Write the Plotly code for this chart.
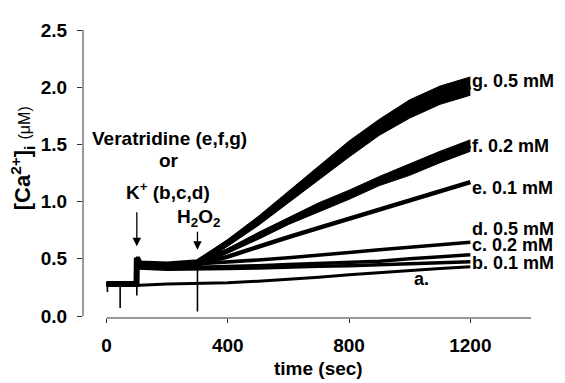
import plotly.graph_objects as go

# ---- data ----
t = [0, 99, 100, 110, 200, 300, 400, 500, 600, 700, 800, 900, 1000, 1100, 1200]
trace_a = [0.27, 0.27, 0.27, 0.27, 0.28, 0.285, 0.29, 0.305, 0.32, 0.34, 0.36, 0.38, 0.40, 0.415, 0.43]
trace_b = [0.28, 0.28, 0.46, 0.42, 0.41, 0.41, 0.415, 0.42, 0.43, 0.435, 0.44, 0.45, 0.46, 0.465, 0.475]
trace_c = [0.28, 0.28, 0.47, 0.43, 0.42, 0.425, 0.435, 0.44, 0.45, 0.46, 0.47, 0.48, 0.50, 0.515, 0.535]
trace_d = [0.28, 0.28, 0.49, 0.45, 0.44, 0.455, 0.47, 0.49, 0.51, 0.53, 0.555, 0.58, 0.60, 0.62, 0.645]
trace_e = [0.28, 0.28, 0.49, 0.44, 0.43, 0.45, 0.52, 0.61, 0.69, 0.77, 0.85, 0.93, 1.01, 1.09, 1.17]
trace_f = [0.28, 0.28, 0.50, 0.45, 0.44, 0.46, 0.57, 0.70, 0.83, 0.95, 1.06, 1.18, 1.28, 1.39, 1.49]
trace_g = [0.28, 0.28, 0.51, 0.46, 0.45, 0.47, 0.64, 0.83, 1.04, 1.25, 1.46, 1.65, 1.81, 1.93, 2.01]

# noise envelopes of the two fastest-rising traces (from t = 300 s)
t_rise = [300, 400, 500, 600, 700, 800, 900, 1000, 1100, 1200]
g_high = [0.49, 0.67, 0.87, 1.09, 1.31, 1.53, 1.72, 1.89, 2.01, 2.09]
g_low = [0.45, 0.61, 0.79, 0.99, 1.19, 1.39, 1.58, 1.73, 1.85, 1.93]
f_high = [0.48, 0.59, 0.73, 0.86, 0.99, 1.10, 1.22, 1.33, 1.44, 1.54]
f_low = [0.44, 0.55, 0.67, 0.80, 0.91, 1.02, 1.14, 1.23, 1.34, 1.44]

# addition artefacts (vertical spikes)
spike_t = [3, 45, 100, 300]
spike_lo = [0.21, 0.07, 0.18, 0.04]
spike_hi = [0.28, 0.28, 0.52, 0.46]

trace_labels = ["g. 0.5 mM", "f. 0.2 mM", "e. 0.1 mM", "d. 0.5 mM", "c. 0.2 mM", "b. 0.1 mM"]
label_y = [2.05, 1.485, 1.116, 0.76, 0.62, 0.463]

y_ticks = [0, 0.5, 1.0, 1.5, 2.0, 2.5]
x_ticks = [0, 400, 800, 1200]

FONT = "Liberation Sans, Arial, Helvetica, sans-serif"
OFF = 8  # page body margin of the html page

fig = go.Figure()

# envelopes
for hi, lo in [(g_high, g_low), (f_high, f_low)]:
    fig.add_trace(go.Scatter(x=t_rise, y=lo, mode="lines", line=dict(color="black", width=1),
                             showlegend=False, hoverinfo="skip"))
    fig.add_trace(go.Scatter(x=t_rise, y=hi, mode="lines", line=dict(color="black", width=1),
                             fill="tonexty", fillcolor="black", showlegend=False, hoverinfo="skip"))

widths = {"a": 3, "b": 3.5, "c": 3.5, "d": 3.5, "e": 4.5, "f": 5, "g": 6}
for name, ys in [("a", trace_a), ("b", trace_b), ("c", trace_c), ("d", trace_d),
                 ("e", trace_e), ("f", trace_f), ("g", trace_g)]:
    fig.add_trace(go.Scatter(x=t, y=ys, mode="lines",
                             line=dict(color="black", width=widths[name]),
                             showlegend=False, name=name))

sx, sy = [], []
for st, lo, hi in zip(spike_t, spike_lo, spike_hi):
    sx += [st, st, None]
    sy += [lo, hi, None]
fig.add_trace(go.Scatter(x=sx, y=sy, mode="lines", line=dict(color="black", width=1.6),
                         showlegend=False, hoverinfo="skip"))

LBL = dict(size=19, family=FONT, color="black")
RLBL = dict(size=18, family=FONT, color="black")
ann = []
for lab, yy in zip(trace_labels, label_y):
    ann.append(dict(x=1200, y=yy, xref="x", yref="y", text="<b>%s</b>" % lab,
                    showarrow=False, xanchor="left", yanchor="middle", font=RLBL))
ann.append(dict(x=1039, y=0.32, xref="x", yref="y", text="<b>a.</b>", showarrow=False,
                xanchor="center", yanchor="middle", font=RLBL))

ann.append(dict(x=209, y=1.55, xref="x", yref="y", text="<b>Veratridine (e,f,g)</b>", showarrow=False,
                xanchor="center", yanchor="middle", font=LBL))
ann.append(dict(x=206, y=1.36, xref="x", yref="y", text="<b>or</b>", showarrow=False,
                xanchor="center", yanchor="middle", font=LBL))
ann.append(dict(x=203, y=1.09, xref="x", yref="y", text="<b>K<sup>+</sup> (b,c,d)</b>", showarrow=False,
                xanchor="center", yanchor="middle", font=LBL))
ann.append(dict(x=305, y=0.86, xref="x", yref="y", text="<b>H<sub>2</sub>O<sub>2</sub></b>", showarrow=False,
                xanchor="center", yanchor="middle", font=LBL))

# arrows
ann.append(dict(x=100, y=0.61, ax=100, ay=0.92, xref="x", yref="y", axref="x", ayref="y",
                text="", showarrow=True, arrowhead=2, arrowsize=1.3, arrowwidth=1.3, arrowcolor="black"))
ann.append(dict(x=300, y=0.58, ax=300, ay=0.75, xref="x", yref="y", axref="x", ayref="y",
                text="", showarrow=True, arrowhead=2, arrowsize=1.3, arrowwidth=1.3, arrowcolor="black"))

# axis titles
ann.append(dict(x=-0.136, y=0.555, xref="paper", yref="paper", textangle=-90,
                text="<b>[Ca<sup>2+</sup>]<sub>i</sub></b> <span style='font-size:16px'>(μM)</span>",
                showarrow=False, xanchor="center", yanchor="middle",
                font=dict(size=22, family=FONT, color="black")))
ann.append(dict(x=698, y=-0.176, xref="x", yref="paper", text="<b>time (sec)</b>", showarrow=False,
                xanchor="center", yanchor="middle", font=dict(size=19, family=FONT, color="black")))

shapes = [
    dict(type="line", xref="paper", yref="y", x0=0, x1=0, y0=0, y1=2.5,
         line=dict(color="#333", width=1)),
    dict(type="line", xref="x", yref="paper", x0=0, x1=1400, y0=0, y1=0,
         line=dict(color="#333", width=1)),
]

TICKF = dict(size=19, family=FONT, color="black", weight="bold")
fig.update_layout(
    width=565 - OFF, height=383 - OFF,
    margin=dict(l=83 - OFF, r=34, t=23 - OFF, b=65, pad=0),
    paper_bgcolor="white", plot_bgcolor="white",
    annotations=ann, shapes=shapes,
    xaxis=dict(range=[-77.5, 1400], tickvals=x_ticks, ticks="outside", ticklen=4,
               tickcolor="#333", showgrid=False, zeroline=False, showline=False,
               tickfont=TICKF, ticklabelstandoff=6),
    yaxis=dict(range=[-0.017, 2.5], tickvals=y_ticks, tickformat=".1f", ticks="outside",
               ticklen=5, tickcolor="#333", showgrid=False, zeroline=False, showline=False,
               tickfont=TICKF, ticklabelstandoff=6),
)

fig.write_html("out.html")
